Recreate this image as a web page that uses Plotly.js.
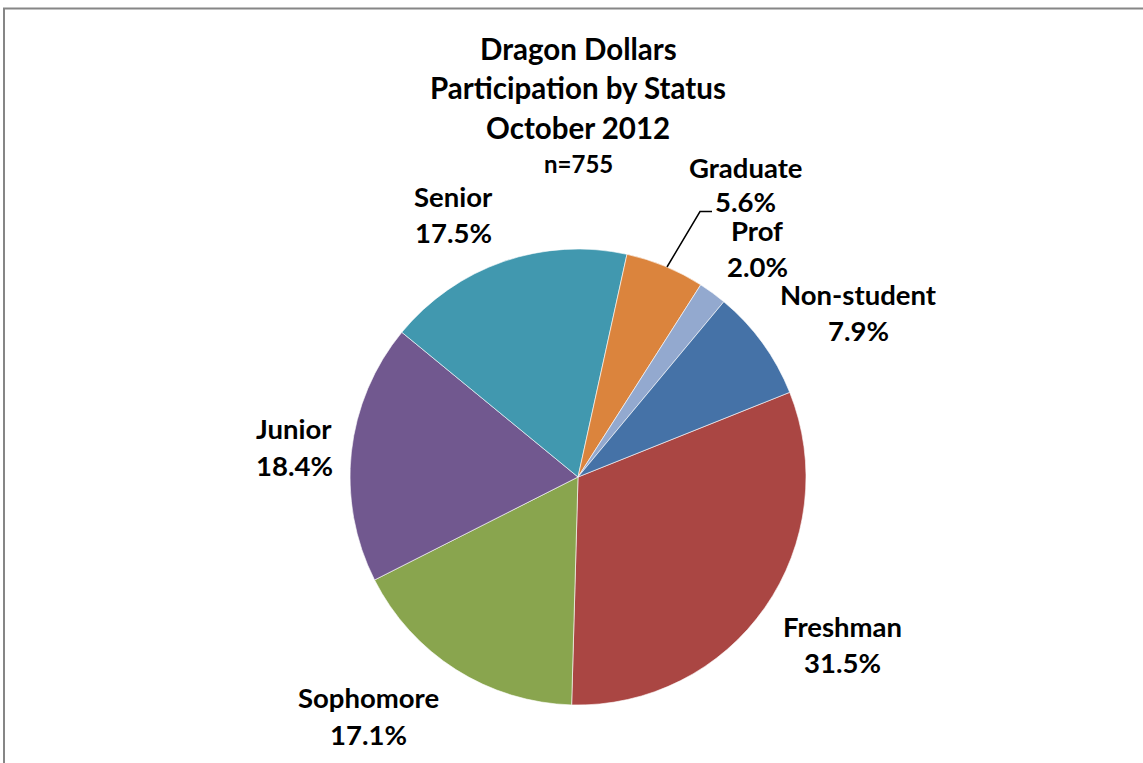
<!DOCTYPE html>
<html>
<head>
<meta charset="utf-8">
<script src="https://cdn.plot.ly/plotly-3.0.1.min.js"></script>
<style>html,body{margin:0;padding:0;background:#fff;}#chart{width:1143px;height:763px;}</style>
</head>
<body>
<div id="chart"></div>
<script>
// ---- data ----
const categories = ["Freshman", "Sophomore", "Junior", "Senior", "Graduate", "Prof", "Non-student"];
const shares = [31.5, 17.1, 18.4, 17.5, 5.6, 2.0, 7.9];
const sliceColors = ["#AA4643", "#89A54E", "#71588F", "#4198AF", "#DB843D", "#93A9CF", "#4572A7"];
const titleLines = ["Dragon Dollars", "Participation by Status", "October 2012"];
const sampleNote = "n=755";

// ---- layout helpers (pixel positions of labels) ----
const W = 1143, H = 763;
const px = x => x / W;
const py = y => 1 - y / H;
const labelPos = {
  "Freshman":   [842, 626, 662],
  "Sophomore":  [368, 697, 734],
  "Junior":     [294, 428, 465],
  "Senior":     [453, 196, 232],
  "Graduate":   [745, 167.5, 202],
  "Prof":       [757, 231, 266],
  "Non-student":[858, 294, 330]
};
const FONT = "Lato, 'Open Sans', sans-serif";
const fsize = 27.5;

const annotations = [];
const titleY = [48, 88, 127];
titleLines.forEach((t, i) => annotations.push({
  text: "<b>" + t + "</b>", x: px(578), y: py(titleY[i]), xref: "paper", yref: "paper",
  showarrow: false, xanchor: "center", yanchor: "middle", font: {family: FONT, size: 29.5, color: "#000"}
}));
annotations.push({
  text: "<b>" + sampleNote + "</b>", x: px(578), y: py(163), xref: "paper", yref: "paper",
  showarrow: false, xanchor: "center", yanchor: "middle", font: {family: FONT, size: 24, color: "#000"}
});
categories.forEach((c, i) => {
  const p = labelPos[c];
  annotations.push({text: "<b>" + c + "</b>", x: px(p[0]), y: py(p[1]), xref: "paper", yref: "paper",
    showarrow: false, xanchor: "center", yanchor: "middle", font: {family: FONT, size: fsize, color: "#000"}});
  annotations.push({text: "<b>" + shares[i].toFixed(1) + "%</b>", x: px(p[0]), y: py(p[2]), xref: "paper", yref: "paper",
    showarrow: false, xanchor: "center", yanchor: "middle", font: {family: FONT, size: fsize, color: "#000"}});
});

const cx = 578, cy = 477, R = 228;
const data = [{
  type: "pie",
  labels: categories,
  values: shares,
  sort: false,
  direction: "clockwise",
  rotation: 68.2,
  textinfo: "none",
  hoverinfo: "label+percent",
  marker: {colors: sliceColors, line: {color: "rgba(255,255,255,0.6)", width: 1}},
  domain: {x: [px(cx - R), px(cx + R)], y: [py(cy + R), py(cy - R)]},
  showlegend: false
}];

const layout = {
  width: W, height: H,
  margin: {l: 0, r: 0, t: 0, b: 0},
  paper_bgcolor: "#fff",
  showlegend: false,
  annotations: annotations,
  shapes: [
    {type: "line", xref: "paper", yref: "paper", x0: px(3), x1: 1.01, y0: py(8.5), y1: py(8.5), line: {color: "#868686", width: 2}},
    {type: "line", xref: "paper", yref: "paper", x0: px(4), x1: px(4), y0: py(8.5), y1: -0.01, line: {color: "#868686", width: 2}},
    {type: "path", xref: "paper", yref: "paper",
     path: `M ${px(667)} ${py(267)} L ${px(700)} ${py(211.5)} L ${px(712)} ${py(211.5)}`,
     line: {color: "#000", width: 1.5}}
  ]
};

Plotly.newPlot("chart", data, layout, {displayModeBar: false, staticPlot: true});
</script>
</body>
</html>
